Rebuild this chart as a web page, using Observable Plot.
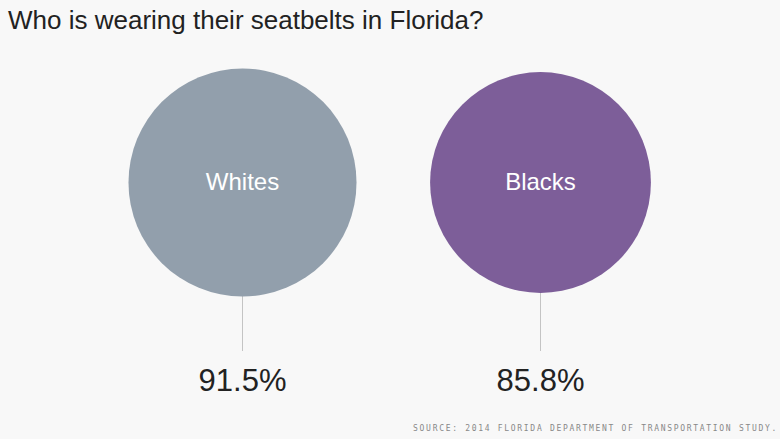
<!DOCTYPE html>
<html>
<head>
<meta charset="utf-8">
<script src="https://cdn.jsdelivr.net/npm/d3@7"></script>
<script src="https://cdn.jsdelivr.net/npm/@observablehq/plot@0.6"></script>
<style>
  html, body { margin: 0; padding: 0; background: #f8f8f8; }
  #wrap { position: relative; width: 780px; height: 439px; overflow: hidden; background: #f8f8f8; font-family: "Liberation Sans", Arial, sans-serif; }
  #title { position: absolute; left: 8px; top: 5px; font-size: 26px; color: #222; white-space: nowrap; }
  #source { position: absolute; right: 2px; top: 424px; font-family: "DejaVu Sans Mono", monospace; font-size: 8px; letter-spacing: 1.7px; color: #888; white-space: nowrap; }
  #chart { position: absolute; left: 0; top: 0; }
</style>
</head>
<body>
<div id="wrap">
  <div id="chart"></div>
  <div id="title">Who is wearing their seatbelts in Florida?</div>
  <div id="source">SOURCE: 2014 FLORIDA DEPARTMENT OF TRANSPORTATION STUDY.</div>
</div>
<script>
const groups = ["Whites", "Blacks"];
const values = [91.5, 85.8];
const labels = ["91.5%", "85.8%"];
const colors = ["#929fac", "#7d5e99"];

const data = groups.map((g, i) => ({group: g, value: values[i], label: labels[i], color: colors[i]}));

const chart = Plot.plot({
  width: 780,
  height: 439,
  marginTop: 182,
  marginBottom: 88,
  marginLeft: 0,
  marginRight: 0,
  style: {background: "transparent", fontFamily: "'Liberation Sans', Arial, sans-serif"},
  x: {type: "point", domain: groups, range: [242, 540], padding: 0, axis: null},
  r: {type: "sqrt", domain: [0, 100], range: [0, 119.2]},
  marks: [
    Plot.ruleX(data, {x: "group", stroke: "#c4c4c4", strokeWidth: 1}),
    Plot.dot(data, {x: "group", r: "value", fill: "color", frameAnchor: "top"}),
    Plot.text(data, {x: "group", text: "group", frameAnchor: "top", lineAnchor: "bottom", dy: 7, fill: "white", fontSize: 24}),
    Plot.text(data, {x: "group", text: "label", frameAnchor: "bottom", lineAnchor: "bottom", dy: 39, fill: "#222", fontSize: 31})
  ]
});
document.getElementById("chart").appendChild(chart);
</script>
</body>
</html>
